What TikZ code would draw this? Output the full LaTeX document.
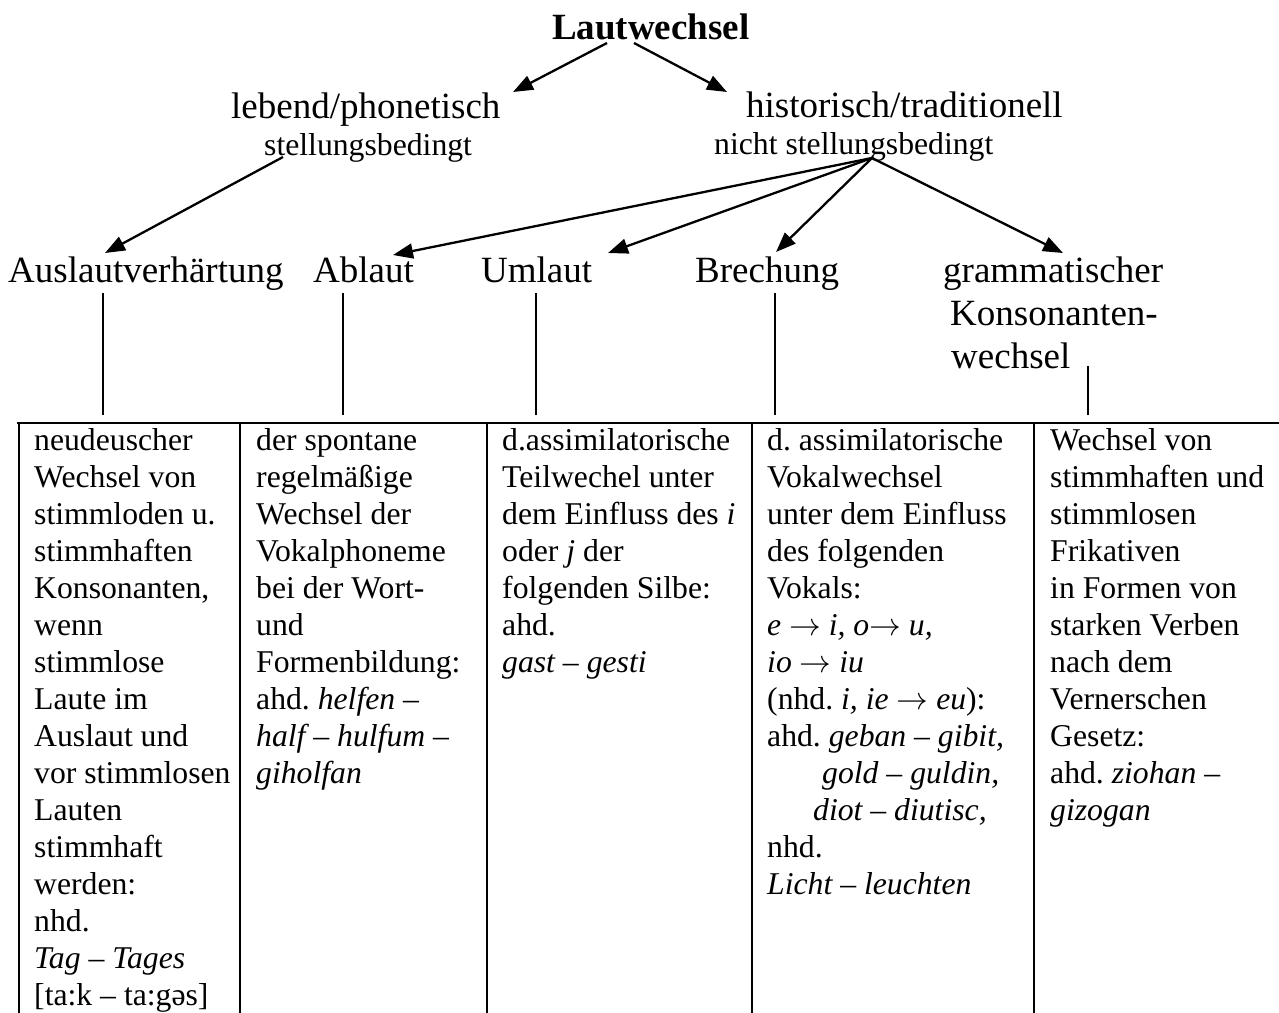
\RequirePackage{fix-cm}
\documentclass[tikz,border=0pt]{standalone}
\usepackage{fontspec}
\setmainfont{Liberation Serif}
\usetikzlibrary{arrows.meta}
\newcommand{\pfeil}{\ensuremath{\rightarrow}}
\begin{document}
\frenchspacing
\begin{tikzpicture}[x=1pt,y=-1pt,
  big/.style={font=\fontsize{37}{42.5}\selectfont, inner sep=0pt, anchor=base west},
  bigbold/.style={font=\bfseries\fontsize{37}{42.5}\selectfont, inner sep=0pt, anchor=base west},
  small/.style={font=\fontsize{31.7}{37}\selectfont, inner sep=0pt, anchor=base west},
  cell/.style={font=\fontsize{31.7}{37}\selectfont, inner sep=0pt, anchor=north west, align=left},
  arr/.style={line width=2.3pt, -{Triangle[length=20pt,width=15pt]}},
  conn/.style={line width=1.3pt},
  tabrule/.style={line width=2.2pt}
]
\useasboundingbox (0,0) rectangle (1279,1012);

% headings
\node[bigbold] (title) at (552,39) {Lautwechsel};
\node[big] (lebend) at (231,118) {lebend/phonetisch};
\node[big] (hist) at (746,117) {historisch/traditionell};
\node[small] (stell) at (264,155) {stellungsbedingt};
\node[small] (nstell) at (714,154) {nicht stellungsbedingt};
\node[big] (ausl) at (8,282) {Auslautverhärtung};
\node[big] (abl) at (313,282) {Ablaut};
\node[big] (uml) at (481,282) {Umlaut};
\node[big] (brech) at (695,282) {Brechung};
\node[big] (gram1) at (943,282) {grammatischer};
\node[big] (gram2) at (950,325) {Konsonanten-};
\node[big] (gram3) at (951,368) {wechsel};

% arrow end points
\coordinate (t1s) at (607,43);
\coordinate (t1e) at (513,92);
\coordinate (t2s) at (634,43);
\coordinate (t2e) at (727,92);
\coordinate (ls) at (283,157);
\coordinate (le) at (105,253);
\coordinate (hub) at (872,158);
\coordinate (ablE) at (393,255);
\coordinate (umlE) at (608,253);
\coordinate (brE) at (776,252);
\coordinate (grE) at (1063,253);

\draw[arr] (t1s) -- (t1e);
\draw[arr] (t2s) -- (t2e);
\draw[arr] (ls) -- (le);
\draw[arr] (hub) -- (ablE);
\draw[arr] (hub) -- (umlE);
\draw[arr] (hub) -- (brE);
\draw[arr] (hub) -- (grE);

% vertical connectors to the table
\coordinate (v1a) at (103,293); \coordinate (v1b) at (103,415);
\coordinate (v2a) at (343,293); \coordinate (v2b) at (343,415);
\coordinate (v3a) at (536,293); \coordinate (v3b) at (536,415);
\coordinate (v4a) at (775,293); \coordinate (v4b) at (775,415);
\coordinate (v5a) at (1088,366); \coordinate (v5b) at (1088,415);
\draw[conn] (v1a) -- (v1b);
\draw[conn] (v2a) -- (v2b);
\draw[conn] (v3a) -- (v3b);
\draw[conn] (v4a) -- (v4b);
\draw[conn] (v5a) -- (v5b);

% table
\draw[tabrule] (17,423) -- (1279,423);
\foreach \xx in {19,240,487,752,1034} \draw[tabrule] (\xx,422) -- (\xx,1013);

\node[cell] (c1) at (34,424) {\rule{0pt}{26pt}neudeuscher\\Wechsel von\\stimmloden u.\\stimmhaften\\Konsonanten,\\wenn\\stimmlose\\Laute im\\Auslaut und\\vor stimmlosen\\Lauten\\stimmhaft\\werden:\\nhd.\\\textit{Tag – Tages}\\{}[ta:k – ta:gəs]};

\node[cell] (c2) at (256,424) {\rule{0pt}{26pt}der spontane\\regelmäßige\\Wechsel der\\Vokalphoneme\\bei der Wort-\\und\\Formenbildung:\\ahd. \textit{helfen –}\\\textit{half – hulfum –}\\\textit{giholfan}};

\node[cell] (c3) at (502,424) {\rule{0pt}{26pt}d.assimilatorische\\Teilwechel unter\\dem Einfluss des \textit{i}\\oder \textit{j} der\\folgenden Silbe:\\ahd.\\\textit{gast – gesti}};

\node[cell] (c4) at (767,424) {\rule{0pt}{26pt}d. assimilatorische\\Vokalwechsel\\unter dem Einfluss\\des folgenden\\Vokals:\\\textit{e} \pfeil{} \textit{i, o}\pfeil{} \textit{u,}\\\textit{io} \pfeil{} \textit{iu}\\(nhd. \textit{i, ie} \pfeil{} \textit{eu}):\\ahd. \textit{geban – gibit,}\\\hspace*{55pt}\textit{gold – guldin,}\\\hspace*{46pt}\textit{diot – diutisc,}\\nhd.\\\textit{Licht – leuchten}};

\node[cell] (c5) at (1050,424) {\rule{0pt}{26pt}Wechsel von\\stimmhaften und\\stimmlosen\\Frikativen\\in Formen von\\starken Verben\\nach dem\\Vernerschen\\Gesetz:\\ahd. \textit{ziohan –}\\\textit{gizogan}};
\end{tikzpicture}
\end{document}
